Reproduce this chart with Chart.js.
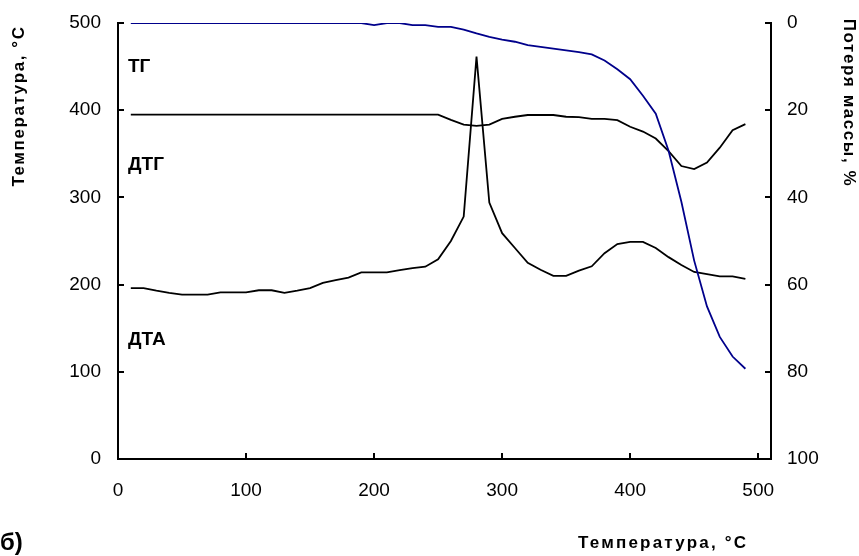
<!DOCTYPE html>
<html>
<head>
<meta charset="utf-8">
<script src="https://cdn.jsdelivr.net/npm/chart.js@4.4.1/dist/chart.umd.min.js"></script>
<style>
  html, body { margin: 0; padding: 0; background: #fff; }
  #wrap { width: 859px; height: 556px; }
</style>
</head>
<body>
<div id="wrap"><canvas id="chart" width="859" height="556"></canvas></div>
<script>
// ===== data =====
let temps = [10,20,30,40,50,60,70,80,90,100,110,120,130,140,150,160,170,180,190,200,
             210,220,230,240,250,260,270,280,290,300,310,320,330,340,350,360,370,380,390,400,
             410,420,430,440,450,460,470,480,490];
// ТГ - потеря массы, % (правая ось)
let tg = [0,0,0,0,0,0,0,0,0,0,0,0,0,0,0,0,0,0,0,0.5,
          0,0,0.5,0.5,0.9,0.9,1.5,2.4,3.2,3.8,4.3,5.1,5.5,5.9,6.3,6.7,7.2,8.6,10.6,12.9,
          16.7,20.8,29.3,41,54.5,65,72,76.5,79.3];
// ДТГ (левая ось)
let dtg = [395,395,395,395,395,395,395,395,395,395,395,395,395,395,395,395,395,395,395,395,
           395,395,395,395,395,389,383.5,382,383.5,390,392.5,394.5,394.5,394.5,392.5,392,390,390,388.5,381,
           375.5,367.5,353,336,332.5,340,357,377,384];
// ДТА (левая ось)
let dta = [196,196,193,190.5,188.5,188.5,188.5,191,191,191,193.5,193.5,190.5,193,196,202,205,208,214,214,
           214,216.5,219,220.5,229,250,278,461.5,294,259,242,225,217,210,210,216,221,236,246.5,249,
           249,242,231.5,222.5,214.5,212,209.5,209.5,206.5];

let xTicks = [100,200,300,400,500];
let yTicks = [0,100,200,300,400,500];
let y2Ticks = [0,20,40,60,80,100];

function pts(ys){
    return temps.map((t,i) => ({x: t, y: ys[i]}));
}

// ===== inward tick marks + texts =====
const extras = {
    id: 'extras',
    afterDraw(chart){
        const ctx = chart.ctx;
        const {x, y, y2} = chart.scales;
        const a = chart.chartArea;
        ctx.save();
        ctx.strokeStyle = '#000';
        ctx.lineWidth = 2;
        ctx.beginPath();
        xTicks.forEach(v => {
            const p = Math.round(x.getPixelForValue(v));
            ctx.moveTo(p, a.bottom); ctx.lineTo(p, a.bottom - 6);
        });
        yTicks.forEach(v => {
            const p = Math.round(y.getPixelForValue(v));
            ctx.moveTo(a.left, p); ctx.lineTo(a.left + 6, p);
        });
        y2Ticks.forEach(v => {
            const p = Math.round(y2.getPixelForValue(v));
            ctx.moveTo(a.right, p); ctx.lineTo(a.right - 6, p);
        });
        ctx.stroke();

        ctx.fillStyle = '#000';
        ctx.font = 'bold 19px "Liberation Sans", Arial, sans-serif';
        ctx.textBaseline = 'middle';
        ctx.textAlign = 'left';
        ctx.fillText('ТГ', 128, 67);
        ctx.fillText('ДТГ', 128, 165);
        ctx.fillText('ДТА', 128, 340);

        // axis titles
        ctx.font = 'bold 17px "Liberation Sans", Arial, sans-serif';
        ctx.letterSpacing = '1.6px';
        ctx.textAlign = 'center';
        ctx.save();
        ctx.translate(19, 106);
        ctx.rotate(-Math.PI / 2);
        ctx.fillText('Температура, °C', 0, 0);
        ctx.restore();
        ctx.save();
        ctx.translate(849, 103);
        ctx.rotate(Math.PI / 2);
        ctx.fillText('Потеря массы, %', 0, 0);
        ctx.restore();
        ctx.letterSpacing = '2.2px';
        ctx.textBaseline = 'alphabetic';
        ctx.textAlign = 'left';
        ctx.fillText('Температура, °C', 578, 548);

        ctx.letterSpacing = '0px';
        ctx.font = 'bold 24px "Liberation Sans", Arial, sans-serif';
        ctx.fillText('б)', 0, 550);
        ctx.restore();
    }
};

const tickFont = {family: '"Liberation Sans", Arial, sans-serif', size: 19};
const ctx = document.getElementById('chart').getContext('2d');
const myChart = new Chart(ctx, {
    type: 'line',
    data: {
        datasets: [
            {label: 'ТГ', data: pts(tg), yAxisID: 'y2', borderColor: '#00008b', borderWidth: 1.8},
            {label: 'ДТГ', data: pts(dtg), yAxisID: 'y', borderColor: '#000', borderWidth: 1.8},
            {label: 'ДТА', data: pts(dta), yAxisID: 'y', borderColor: '#000', borderWidth: 1.8}
        ]
    },
    options: {
        responsive: false,
        animation: false,
        events: [],
        elements: {point: {radius: 0}, line: {tension: 0}},
        layout: {padding: {top: 23, left: 0, right: 0, bottom: 0}},
        plugins: {legend: {display: false}, tooltip: {enabled: false}},
        scales: {
            x: {
                type: 'linear', position: 'bottom', min: 0, max: 510,
                afterBuildTicks: s => { s.ticks = [0].concat(xTicks).map(v => ({value: v})); },
                afterFit: s => { s.height = 97; },
                grid: {display: false},
                border: {display: true, color: '#000', width: 2},
                ticks: {color: '#000', font: tickFont, padding: 12, maxRotation: 0}
            },
            y: {
                type: 'linear', position: 'left', min: 0, max: 500,
                afterBuildTicks: s => { s.ticks = yTicks.map(v => ({value: v})); },
                afterFit: s => { s.width = 118; },
                grid: {display: false},
                border: {display: true, color: '#000', width: 2},
                ticks: {color: '#000', font: tickFont, padding: 9}
            },
            y2: {
                type: 'linear', position: 'right', min: 0, max: 100, reverse: true,
                afterBuildTicks: s => { s.ticks = y2Ticks.map(v => ({value: v})); },
                afterFit: s => { s.width = 88; },
                grid: {display: false},
                border: {display: true, color: '#000', width: 2},
                ticks: {color: '#000', font: tickFont, padding: 8}
            }
        }
    },
    plugins: [extras]
});
</script>
</body>
</html>
